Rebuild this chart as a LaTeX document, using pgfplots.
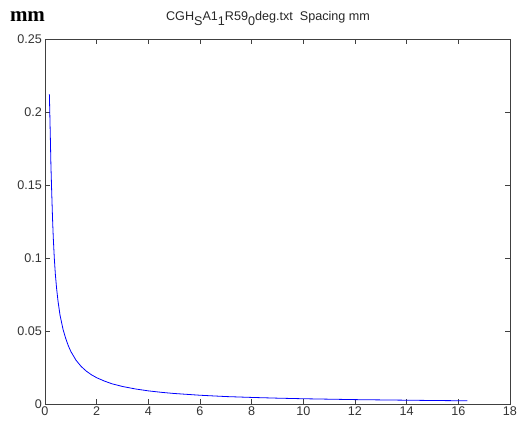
\documentclass[border=0pt]{standalone}
\usepackage{fontspec}
\setmainfont{Liberation Sans}
\newfontfamily\seriffont{Liberation Serif}
\usepackage{pgfplots}
\pgfplotsset{compat=1.18}
\newcommand{\sub}[1]{\raisebox{-0.42em}{#1}}
\begin{document}
\begin{tikzpicture}[x=1pt,y=1pt]
\begin{axis}[
  at={(0,0)}, anchor=south west,
  scale only axis, width=465pt, height=365pt,
  xmin=0, xmax=18, ymin=0, ymax=0.25,
  xtick={0,2,...,18},
  ytick={0,0.05,0.1,0.15,0.2,0.25},
  yticklabels={0,0.05,0.1,0.15,0.2,0.25},
  tick align=inside,
  major tick length=5pt,
  tick style={black!75, line width=0.8pt},
  axis line style={black!75, line width=0.9pt},
  ticklabel style={font=\fontsize{12.6}{14}\selectfont, text=black!80, inner sep=1pt},
  /pgf/number format/assume math mode=true,
  scaled y ticks=false,
  xticklabel style={yshift=-2pt},
  yticklabel style={xshift=-2pt},
  clip=false,
]
\addplot[blue, line width=0.8pt] coordinates {
(0.17,0.212) (0.19,0.196) (0.21,0.180) (0.23,0.163) (0.26,0.145)
(0.29,0.128) (0.32,0.114) (0.36,0.100) (0.40,0.089) (0.45,0.079)
(0.50,0.071) (0.58,0.061) (0.70,0.051) (0.80,0.045) (0.90,0.040)
(1.00,0.036) (1.20,0.030) (1.40,0.0257) (1.60,0.0225) (1.80,0.0200)
(2.00,0.0180) (2.30,0.0157) (2.60,0.0138) (3.00,0.0120) (3.50,0.0103)
(4.00,0.0090) (4.50,0.0080) (5.00,0.0072) (6.00,0.0060) (7.00,0.0051)
(8.00,0.0045) (9.00,0.0040) (10.00,0.0036) (11.00,0.0033) (12.00,0.0030)
(13.00,0.0028) (14.00,0.0026) (15.00,0.0024) (16.00,0.00225) (16.35,0.0022)
};
\end{axis}
\node[anchor=base, inner sep=0pt, font=\fontsize{12.6}{14}\selectfont, text=black!85] at (223,383.3)
  {CGH\sub{S}A1\sub{1}R59\sub{0}deg.txt\ \ Spacing mm};
\node[anchor=base, inner sep=0pt, font=\seriffont\bfseries\fontsize{21}{24}\selectfont] at (-17.5,382.5) {mm};
\path[use as bounding box] (-45,-25) rectangle (473,404);
\end{tikzpicture}
\end{document}
